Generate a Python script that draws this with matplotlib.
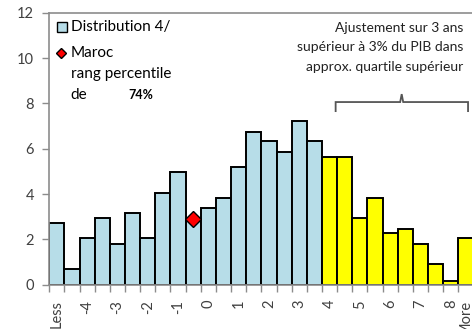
import matplotlib
matplotlib.use("Agg")
import matplotlib.pyplot as plt
from matplotlib.path import Path
from matplotlib.patches import PathPatch

plt.rcParams['font.family'] = ['Lato', 'DejaVu Sans']

# Histogram bins (half-point steps), with open-ended first and last bins
bins = ["Less", "-4.5", "-4", "-3.5", "-3", "-2.5", "-2", "-1.5", "-1", "-0.5",
        "0", "0.5", "1", "1.5", "2", "2.5", "3", "3.5", "4", "4.5",
        "5", "5.5", "6", "6.5", "7", "7.5", "8", "More"]
counts = [2.71, 0.69, 2.04, 2.95, 1.79, 3.17, 2.04, 4.06, 4.97, 2.90,
          3.40, 3.84, 5.19, 6.75, 6.34, 5.87, 7.22, 6.33, 5.63, 5.63,
          2.93, 3.81, 2.26, 2.45, 1.79, 0.90, 0.17, 2.04]
top_quartile_from = "4"          # bins from here on are highlighted
maroc_bin = "-0.5"
maroc_value = 2.90
maroc_percentile = "74%"
tick_labels = {"Less": "Less", "-4": "-4", "-3": "-3", "-2": "-2", "-1": "-1",
               "0": "0", "1": "1", "2": "2", "3": "3", "4": "4", "5": "5",
               "6": "6", "7": "7", "8": "8", "More": "More"}

BLUE = "#b7dde8"
YELLOW = "#ffff00"
GRID = "#8c8c8c"
TXT = "#404040"

fig = plt.figure(figsize=(4.72, 3.29), dpi=100)
ax = fig.add_axes([49.3 / 472, 44.4 / 329, (473.5 - 49.3) / 472, (284.6 - 12.8) / 329])

x = list(range(len(bins)))
start = bins.index(top_quartile_from)
colors = [BLUE if i < start else YELLOW for i in x]
ax.bar(x, counts, width=1.0, color=colors, edgecolor="black", linewidth=1.4, zorder=2)

mi = bins.index(maroc_bin)
ax.plot([mi], [maroc_value], marker="D", markersize=8.5, markerfacecolor="#ff0000",
        markeredgecolor="black", markeredgewidth=1.0, linestyle="none", zorder=4)

ax.set_xlim(-0.5, len(bins) - 0.5)
ax.set_ylim(0, 12)
ax.set_yticks(range(0, 13, 2))
ax.tick_params(axis="y", direction="out", length=5, width=1, color=GRID,
               labelsize=10.5, labelcolor=TXT, pad=6)

major = [i for i, b in enumerate(bins) if b in tick_labels]
ax.set_xticks(major)
ax.set_xticklabels([tick_labels[bins[i]] for i in major], rotation=90, va="top", ha="center")
ax.set_xticks([i - 0.5 for i in range(len(bins) + 1)], minor=True)
ax.tick_params(axis="x", which="major", length=0, labelsize=10.5, labelcolor=TXT, pad=11)
ax.tick_params(axis="x", which="minor", direction="out", length=5, width=1, color=GRID)

for side in ("left", "bottom", "top"):
    ax.spines[side].set_color(GRID)
    ax.spines[side].set_linewidth(1.2)
ax.spines["right"].set_visible(False)

# Legend, drawn by hand so the percentile can sit in bold on its own line
ax.plot([0.031], [0.946], transform=ax.transAxes, marker="s", markersize=7,
        markerfacecolor=BLUE, markeredgecolor="black", markeredgewidth=1.0,
        clip_on=False, zorder=5)
ax.text(0.05, 0.946, "Distribution 4/", transform=ax.transAxes, fontsize=11,
        va="center", ha="left", color="black")
ax.plot([0.027], [0.851], transform=ax.transAxes, marker="D", markersize=5,
        markerfacecolor="#ff0000", markeredgecolor="black", markeredgewidth=1.0,
        clip_on=False, zorder=5)
ax.text(0.05, 0.851, "Maroc", transform=ax.transAxes, fontsize=11,
        va="center", ha="left", color="black")
ax.text(0.05, 0.775, "rang percentile", transform=ax.transAxes, fontsize=11,
        va="center", ha="left", color="black")
ax.text(0.05, 0.699, "de", transform=ax.transAxes, fontsize=11,
        va="center", ha="left", color="black")
ax.text(0.186, 0.699, maroc_percentile, transform=ax.transAxes, fontsize=9,
        fontweight="bold", va="center", ha="left", color="black")

# Annotation and brace over the top-quartile bins
ax.text(0.975, 0.874, "Ajustement sur 3 ans\nsupérieur à 3% du PIB dans\napprox. quartile supérieur",
        transform=ax.transAxes, fontsize=10, ha="right", va="center",
        linespacing=1.75, color="#222222")

xl, xc, xr = 18.4, 22.76, 27.14
yb, yh, yp = 7.62, 8.06, 8.41
verts = [(xl, yb), (xl, yh), (xl + 0.15, yh), (xc - 0.1, yh), (xc, yp),
         (xc + 0.1, yh), (xr - 0.15, yh), (xr, yh), (xr, yb)]
codes = [Path.MOVETO] + [Path.LINETO] * (len(verts) - 1)
ax.add_patch(PathPatch(Path(verts, codes), facecolor="none", edgecolor="#555555",
                       linewidth=1.3, clip_on=False, zorder=5))

fig.savefig("out.png", dpi=100)
